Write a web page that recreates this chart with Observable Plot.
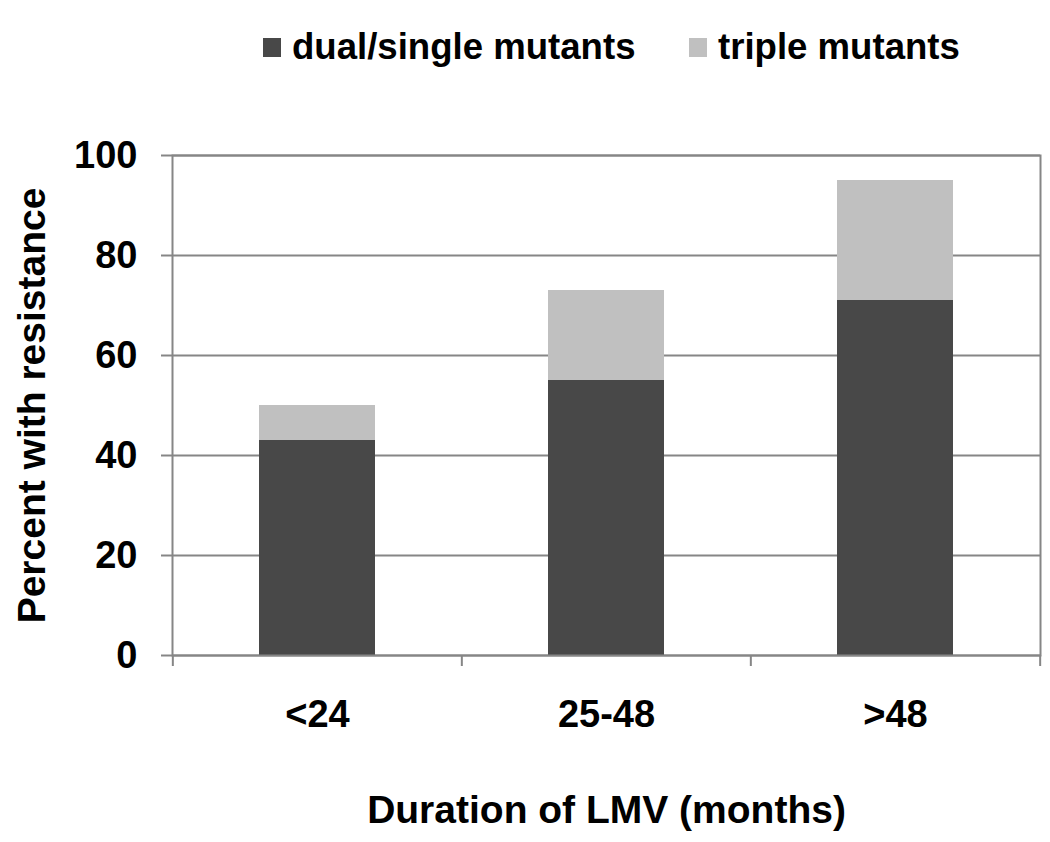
<!DOCTYPE html>
<html>
<head>
<meta charset="utf-8">
<script src="https://cdn.jsdelivr.net/npm/d3@7"></script>
<script src="https://cdn.jsdelivr.net/npm/@observablehq/plot@0.6"></script>
<style>
  html, body { margin: 0; padding: 0; background: #fff; }
  body { width: 1050px; height: 842px; overflow: hidden; font-family: "Liberation Sans", Arial, sans-serif; }
  #legend { height: 90px; position: relative; font-weight: bold; font-size: 36.6px; color: #000; }
  .item { position: absolute; top: 0; height: 94px; display: flex; align-items: center; }
  .sw { width: 18px; height: 19px; display: inline-block; }
  #chart svg { display: block; overflow: visible; }
</style>
</head>
<body>
<div id="legend"></div>
<div id="chart"></div>
<script>
// ---- data ----
const categories = ["<24", "25-48", ">48"];
const seriesNames = ["dual/single mutants", "triple mutants"];
const dualSingle = [43, 55, 71];
const triple = [7, 18, 24];
const seriesColors = ["#484848", "#c0c0c0"];
const yTicks = [0, 20, 40, 60, 80, 100];
const yLabel = "Percent with resistance";
const xLabel = "Duration of LMV (months)";

// long-format table for stacking
const rows = [];
categories.forEach((c, i) => {
  rows.push({cat: c, series: seriesNames[0], value: dualSingle[i]});
  rows.push({cat: c, series: seriesNames[1], value: triple[i]});
});

// legend (HTML, above the SVG)
const legend = document.getElementById("legend");
const legendLeft = [263, 689];
seriesNames.forEach((s, i) => {
  const it = document.createElement("div");
  it.className = "item";
  it.style.left = legendLeft[i] + "px";
  const sw = document.createElement("span");
  sw.className = "sw";
  sw.style.background = seriesColors[i];
  sw.style.marginRight = "11px";
  const tx = document.createElement("span");
  tx.textContent = s;
  it.appendChild(sw);
  it.appendChild(tx);
  legend.appendChild(it);
});

const width = 1050, height = 752;
const marginLeft = 172, marginRight = 10, marginTop = 65, marginBottom = 187;
const step = (width - marginLeft - marginRight) / categories.length;
const gray = "#868686";

const chart = Plot.plot({
  width, height, marginLeft, marginRight, marginTop, marginBottom,
  style: {fontFamily: "'Liberation Sans', Arial, sans-serif", fontWeight: "bold", fontSize: "38px", color: "#000", background: "#fff", overflow: "visible"},
  x: {domain: categories, paddingInner: 0.6, paddingOuter: 0.3, label: null},
  y: {domain: [0, 100], label: null},
  color: {domain: seriesNames, range: seriesColors},
  marks: [
    Plot.gridY(yTicks, {stroke: gray, strokeOpacity: 1, strokeWidth: 2}),
    Plot.barY(rows, Plot.stackY({x: "cat", y: "value", fill: "series", order: null})),
    Plot.frame({stroke: gray, strokeWidth: 2}),
    Plot.axisY(yTicks, {tickSize: 11, tickPadding: 24, stroke: gray, strokeWidth: 2, label: null, fill: "#000"}),
    Plot.axisX({tickSize: 0, tickPadding: 45, label: null, fill: "#000"}),
    Plot.axisX({tickSize: 11, dx: -step / 2, tickFormat: () => "", label: null, stroke: gray, strokeWidth: 2}),
    Plot.axisX([categories[categories.length - 1]], {tickSize: 11, dx: step / 2, tickFormat: () => "", label: null, stroke: gray, strokeWidth: 2}),
    Plot.text([yLabel], {frameAnchor: "left", dx: -140, rotate: -90, textAnchor: "middle", lineAnchor: "middle", fontSize: 39, fontWeight: "bold", fill: "#000"}),
    Plot.text([xLabel], {frameAnchor: "bottom", dy: 155, textAnchor: "middle", lineAnchor: "middle", fontSize: 39, fontWeight: "bold", fill: "#000"})
  ]
});
document.getElementById("chart").appendChild(chart);
</script>
</body>
</html>
